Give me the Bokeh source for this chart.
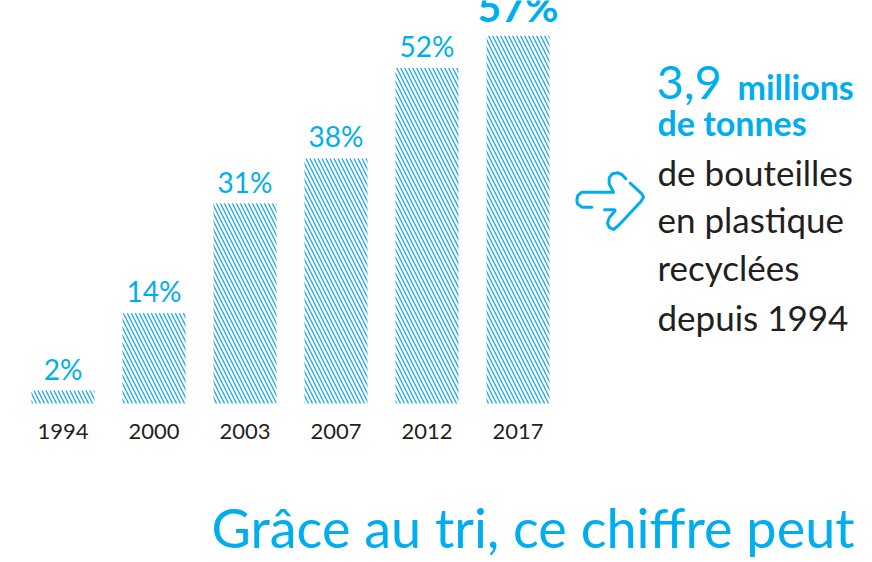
from bokeh.plotting import figure
from bokeh.models import Range1d, ColumnDataSource
from bokeh.core.properties import value
from bokeh.embed import file_html
from bokeh.resources import INLINE

# ---- data ----
years = ["1994", "2000", "2003", "2007", "2012", "2017"]
rates = [2, 14, 31, 38, 52, 57]
rate_labels = ["2%", "14%", "31%", "38%", "52%", "57%"]

side_blue_big = "3,9"
side_blue_1 = "millions"
side_blue_2 = "de tonnes"
side_black = ["de bouteilles", "en plastique", "recyclées", "depuis 1994"]
bottom_title = "Grâce au tri, ce chiffre peut"

BLUE = "#00aeef"
HATCH = "#17a9e3"
BLACK = "#231f20"
FONT = "Lato"

W, H = 872, 562
PITCH = 91.0          # px per category
K = 6.45              # px per percent
X0_PX = 62.5          # canvas px of first bar centre
BASE_PX = 403.0       # canvas px of 0 %

x_start = -X0_PX / PITCH
y_start = -(H - BASE_PX) / K
p = figure(width=W, height=H, output_backend="svg", toolbar_location=None,
           x_range=Range1d(x_start, x_start + W / PITCH),
           y_range=Range1d(y_start, y_start + H / K),
           x_axis_type=None, y_axis_type=None, min_border=0)
p.outline_line_color = None
p.grid.visible = False
p.background_fill_color = "white"


def X(ref_px):
    return ref_px / PITCH + x_start


def Y(ref_py):
    return (BASE_PX - ref_py) / K


def shift(size):
    # baseline correction for the text glyph, in screen px (up)
    return -round(0.31 * size)


idx = list(range(len(years)))
src = ColumnDataSource(dict(x=idx, top=rates, lab=rate_labels, yr=years))

p.vbar(x="x", top="top", bottom=0, width=63 / PITCH, source=src,
       fill_color=None, line_color=None,
       hatch_pattern="\\", hatch_color=HATCH, hatch_scale=8, hatch_weight=1.3)

n = len(years)
lab_src = ColumnDataSource(dict(x=idx[:-1], y=rates[:-1], t=rate_labels[:-1]))
p.text(x="x", y="y", text="t", source=lab_src, text_align="center",
       text_baseline="alphabetic", y_offset=-13 + shift(28), text_color=BLUE,
       text_font=value(FONT), text_font_size="28px")
last_src = ColumnDataSource(dict(x=idx[-1:], y=rates[-1:], t=rate_labels[-1:]))
p.text(x="x", y="y", text="t", source=last_src, text_align="center",
       text_baseline="alphabetic", y_offset=-16 + shift(41), text_color=BLUE,
       text_font=value(FONT), text_font_size="41px", text_font_style="bold")

yr_src = ColumnDataSource(dict(x=idx, y=[Y(438)] * n, t=years))
p.text(x="x", y="y", text="t", source=yr_src, text_align="center",
       text_baseline="alphabetic", y_offset=shift(22), text_color=BLACK,
       text_font=value(FONT), text_font_size="22px")

p.text(x=[X(656)], y=[Y(97)], text=[side_blue_big], text_color=BLUE,
       text_font=value(FONT), text_font_size="47px", text_baseline="alphabetic",
       y_offset=shift(47))
p.text(x=[X(737)], y=[Y(97)], text=[side_blue_1], text_color=BLUE,
       text_font=value(FONT), text_font_size="34px", text_font_style="bold",
       text_baseline="alphabetic", y_offset=shift(34))
p.text(x=[X(657)], y=[Y(133)], text=[side_blue_2], text_color=BLUE,
       text_font=value(FONT), text_font_size="34px", text_font_style="bold",
       text_baseline="alphabetic", y_offset=shift(34))
black_y = [182, 229, 277, 327]
p.text(x=[X(657)] * len(side_black), y=[Y(v) for v in black_y], text=side_black,
       text_color=BLACK, text_font=value(FONT), text_font_size="35px",
       text_baseline="alphabetic", y_offset=shift(35))

seg1 = [(70, 140), (40, 140), (27, 130), (25, 118), (28, 105), (40, 95), (135, 95),
        (122, 70), (122, 52), (132, 40), (148, 37), (160, 42), (172, 55)]
seg2 = [(185, 68), (220, 100), (225, 110), (218, 122), (150, 195), (135, 207),
        (122, 200), (117, 188), (122, 172), (140, 150), (138, 148), (108, 148)]
xs, ys = [], []
for seg in (seg1, seg2):
    xs.append([X(a / 3 + 568) for a, b in seg])
    ys.append([Y(b / 3 + 160) for a, b in seg])
p.multi_line(xs=xs, ys=ys, line_color=BLUE, line_width=3,
             line_join="round", line_cap="round")

p.text(x=[X(211)], y=[Y(544)], text=[bottom_title], text_color=BLUE,
       text_font=value(FONT), text_font_size="54px", text_baseline="alphabetic",
       y_offset=shift(54))

open("out.html", "w").write(file_html(p, INLINE))
